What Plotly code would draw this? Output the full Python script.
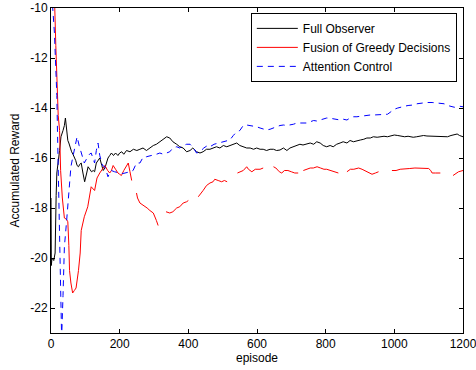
import plotly.graph_objects as go

# ---------------- data ----------------
full_ep = [0, 1, 3, 8, 12, 15, 17, 25, 29, 35, 39, 42, 45, 49, 52, 56, 60, 64, 68, 72, 76, 80, 84, 88, 93, 98,
           104, 108, 113, 118, 123, 127, 132, 137, 142, 148, 152, 157, 162, 166, 171, 176, 182, 188, 195, 200,
           206, 212, 220, 230, 240, 250, 259, 268, 278, 288, 298, 307, 317, 327, 337, 346, 355, 366, 375, 385,
           395, 405, 413, 424, 434, 443, 453, 463, 472, 482, 492, 502, 512, 521, 531, 541, 550, 560, 570, 580,
           590, 599, 609, 618, 628, 638, 648, 657, 667, 677, 687, 696, 706, 716, 725, 734, 745, 755, 765, 774,
           784, 793, 803, 813, 822, 832, 842, 851, 862, 871, 881, 891, 901, 911, 920, 930, 939, 950, 960, 970,
           980, 990, 1000, 1010, 1020, 1030, 1040, 1055, 1065, 1075, 1085, 1095, 1104, 1115, 1125, 1135, 1145,
           1155, 1165, 1175, 1183, 1190, 1200]
full_val = [-17.6, -20.3, -20.0, -20.1, -19.8, -17.5, -16.6, -15.7, -15.15, -14.9, -14.7, -14.4, -14.8, -15.3,
            -15.4, -15.6, -15.75, -15.85, -15.95, -16.1, -16.3, -16.35, -16.25, -16.2, -16.6, -16.95,
            -16.6, -16.35, -16.45, -16.55, -16.5, -16.55, -16.2, -16.1, -16.0, -16.3, -16.5, -16.4, -16.2, -16.0,
            -15.9, -15.8, -15.9, -15.8, -15.9, -15.8, -15.75, -15.85, -15.7, -15.75, -15.65, -15.7, -15.65,
            -15.6, -15.7, -15.6, -15.5, -15.45, -15.35, -15.25, -15.15, -15.2, -15.35, -15.45, -15.55, -15.6,
            -15.75, -15.7, -15.6, -15.75, -15.8, -15.75, -15.65, -15.65, -15.6, -15.55, -15.6, -15.5, -15.55,
            -15.5, -15.45, -15.4, -15.5, -15.55, -15.6, -15.6, -15.65, -15.6, -15.65, -15.65, -15.7, -15.65,
            -15.65, -15.7, -15.68, -15.6, -15.7, -15.6, -15.55, -15.5, -15.45, -15.48, -15.45, -15.4, -15.45,
            -15.35, -15.4, -15.5, -15.55, -15.5, -15.55, -15.45, -15.4, -15.35, -15.4, -15.3, -15.35, -15.3,
            -15.28, -15.25, -15.2, -15.2, -15.15, -15.17, -15.15, -15.13, -15.15, -15.1, -15.08, -15.1, -15.12,
            -15.15, -15.13, -15.17, -15.15, -15.12, -15.1, -15.12, -15.12, -15.15, -15.12, -15.15, -15.13,
            -15.15, -15.1, -15.05, -15.04, -15.1, -15.15]

fusion_ep = [8, 11, 14, 16, 18, 21, 25, 28, 33, 37, 39, 45, 49, 52, 54, 58, 63, 68, 73, 80, 85, 88, 97, 107, 117,
             127, 134, 142, 150, 157, 165, 171, 176, 181, 188, 195, 200, 205, 212, 220, 225, 230, 235,
             242, 249, 252, 259, 270, 280, 288, 298, 307, 312, 323, 335, 346, 355, 366, 375, 385, 395, 400, 414,
             429, 436, 443, 453, 463, 472, 477, 487, 497, 505, 513, 528, 543, 550, 560, 570, 575, 585, 595, 609,
             618, 633, 648, 655, 665, 672, 680, 690, 700, 710, 720, 727, 735, 745, 755, 764, 775, 785, 795, 803,
             813, 823, 837, 850, 862, 872, 882, 896, 906, 920, 935, 945, 954, 975, 993, 1005, 1017, 1030, 1045,
             1060, 1075, 1090, 1100, 1106, 1110, 1120, 1134, 1152, 1171, 1180, 1187, 1200]
fusion_val = [-9.5, -10.0, -11.5, -12.35, -13.55, -14.3, -14.9, -16.5, -17.6, -18.1, -18.4, -18.45, -18.55,
              -19.5, -20.5, -21.0, -21.4, -21.3, -21.2, -20.5, -19.8, -18.9, -18.35, -17.95, -17.15,
              -17.3, -16.8, -16.6, -16.45, -16.3, -16.5, -16.6, -16.5, -16.3, -16.45, -16.6, -16.65,
              -16.7, -16.5, -16.3, -16.2, -16.55, -16.9, None, -17.4, -17.6, -17.8, -17.9, -18.0, -18.1, -18.2,
              -18.5, -18.7, None, -18.15, -18.2, -18.15, -18.0, -17.95, -17.8, -17.75, -17.7, None, -17.55,
              -17.4, -17.3, -17.1, -17.0, -16.95, -16.85, -16.9, -16.95, -16.9, -16.95, None, -16.6, -16.55,
              -16.5, -16.35, -16.45, -16.55, -16.45, -16.45, -16.4, None, -16.35, -16.4, -16.55, -16.6, -16.5,
              -16.5, -16.55, -16.6, -16.6, None, -16.5, -16.45, -16.4, -16.4, -16.35, -16.4, -16.45, -16.45,
              -16.5, -16.55, -16.6, None, -16.55, -16.45, -16.45, -16.4, -16.45, -16.55, -16.65, -16.6, -16.55,
              None, -16.5, -16.5, -16.45, -16.45, -16.42, -16.4, -16.4, -16.4, -16.42, -16.5, -16.6, -16.6,
              -16.6, None, -16.7, -16.6, -16.55, -16.5]

attn_ep = [0, 5, 10, 13, 15, 17, 19, 22, 25, 28, 31, 35, 39, 45, 49, 54, 58, 63, 68, 76, 82, 88, 93, 97, 105,
           112, 117, 122, 127, 132, 137, 142, 150, 157, 162, 166, 171, 176, 185, 195, 200,
           210, 220, 230, 239, 249, 259, 269, 278, 288, 298, 307, 317, 327, 337, 346, 355, 366, 375, 385, 395,
           405, 415, 424, 434, 445, 456, 463, 475, 487, 498, 510, 521, 531, 541, 550, 560, 570, 580, 590, 599,
           609, 618, 628, 638, 648, 657, 667, 677, 687, 696, 706, 716, 725, 734, 745, 755, 765, 774, 784, 793,
           803, 813, 823, 832, 842, 852, 862, 871, 881, 891, 901, 911, 920, 930, 939, 950, 960, 970, 980, 990,
           1000, 1010, 1020, 1030, 1040, 1055, 1066, 1080, 1095, 1110, 1124, 1135, 1145, 1155, 1165, 1175, 1183,
           1190, 1200]
attn_val = [-9.9, -10.0, -11.0, -12.0, -12.6, -13.5, -15.0, -17.0, -19.5, -21.5, -23.2, -21.5, -19.55, -18.6,
            -17.95, -17.3, -16.35, -16.0, -15.7, -15.15, -15.5, -15.8, -15.95, -16.2, -16.0,
            -15.85, -15.8, -16.0, -16.2, -15.7, -15.4, -15.9, -16.3, -16.35, -16.6, -16.75,
            -16.6, -16.5, -16.55, -16.6, -16.6, -16.62, -16.6, -16.55, -16.5, -16.2, -16.2, -15.95, -15.95,
            -15.9, -15.88, -15.85, -15.8, -15.85, -15.8, -15.75, -15.6, -15.55, -15.6, -15.5, -15.45, -15.45,
            -15.6, -15.8, -15.75, -15.6, -15.5, -15.55, -15.45, -15.4, -15.35, -15.3, -15.28, -15.1, -14.95,
            -14.9, -14.7, -14.68, -14.7, -14.75, -14.75, -14.8, -14.85, -14.88, -14.85, -14.78, -14.75, -14.7,
            -14.68, -14.7, -14.68, -14.65, -14.6, -14.6, -14.58, -14.6, -14.55, -14.5, -14.52, -14.48, -14.42,
            -14.4, -14.41, -14.43, -14.47, -14.48, -14.45, -14.48, -14.4, -14.35, -14.35, -14.33, -14.3, -14.3,
            -14.28, -14.28, -14.27, -14.28, -14.27, -14.25, -14.15, -14.05, -14.0, -13.98, -13.93, -13.9,
            -13.88, -13.83, -13.8, -13.78, -13.78, -13.79, -13.8, -13.83, -13.9, -13.95, -13.97, -13.95,
            -13.93, -13.95]

series_names = ["Full Observer", "Fusion of Greedy Decisions", "Attention Control"]
x_ticks = [0, 200, 400, 600, 800, 1000, 1200]
y_ticks = [-22, -20, -18, -16, -14, -12, -10]

# ---------------- figure ----------------
FONT = "Liberation Sans, Arial, sans-serif"
fig = go.Figure()
fig.add_trace(go.Scatter(x=full_ep, y=full_val, mode="lines", name=series_names[0],
                         line=dict(color="#000000", width=1), connectgaps=False))
fig.add_trace(go.Scatter(x=fusion_ep, y=fusion_val, mode="lines", name=series_names[1],
                         line=dict(color="#ff0000", width=1), connectgaps=False))
fig.add_trace(go.Scatter(x=attn_ep, y=attn_val, mode="lines", name=series_names[2],
                         line=dict(color="#0000ff", width=1, dash="6px,5px"), connectgaps=False))

axis_common = dict(showline=True, linecolor="black", linewidth=1, mirror="ticks",
                   ticks="inside", ticklen=4, tickcolor="black", showgrid=False, zeroline=False,
                   automargin=False, ticklabeloverflow="allow",
                   tickfont=dict(family=FONT, size=12, color="black"))
fig.update_xaxes(range=[0, 1200], tickvals=x_ticks, ticktext=[str(v) for v in x_ticks],
                 title=dict(text="episode", font=dict(family=FONT, size=12, color="black"), standoff=2),
                 **axis_common)
fig.update_yaxes(range=[-23, -10], tickvals=y_ticks, ticktext=[str(v) for v in y_ticks],
                 title=dict(text="Accumulated Reward", font=dict(family=FONT, size=12, color="black"),
                            standoff=8),
                 **axis_common)
fig.update_layout(
    width=476, height=370,
    margin=dict(l=51, r=13, t=8, b=37, autoexpand=False),
    paper_bgcolor="white", plot_bgcolor="white",
    font=dict(family=FONT, size=12, color="black"),
    legend=dict(x=0.985, y=0.985, xanchor="right", yanchor="top",
                bgcolor="white", bordercolor="black", borderwidth=1,
                font=dict(family=FONT, size=12, color="black"),
                tracegroupgap=0, itemwidth=41),
    showlegend=True,
)
fig.write_html("out.html", config={"displayModeBar": False},
               post_script="document.body.style.margin='0';document.body.style.padding='0';")
